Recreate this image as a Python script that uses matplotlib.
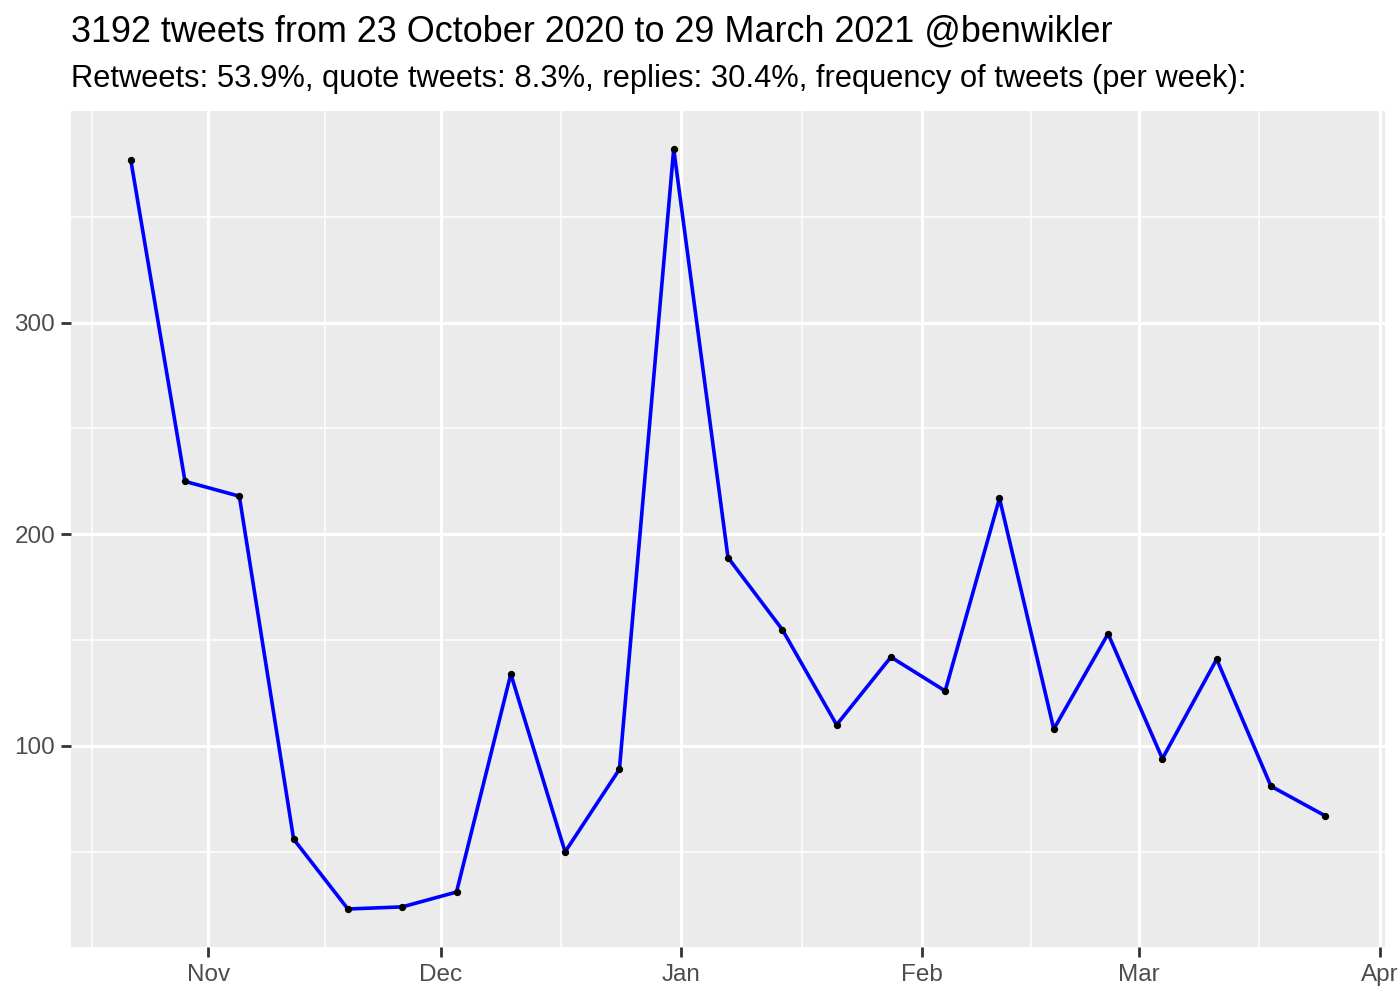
import matplotlib
matplotlib.use('Agg')
import matplotlib.pyplot as plt
import matplotlib.dates as mdates
import numpy as np
import pandas as pd

plt.rcParams['font.family'] = ['Liberation Sans', 'DejaVu Sans']

# weekly tweet counts
week_start = pd.date_range('2020-10-22', periods=23, freq='7D')
tweets = [377, 225, 218, 56, 23, 24, 31, 134, 50, 89, 382, 189, 155, 110,
          142, 126, 217, 108, 153, 94, 141, 81, 67]

title = '3192 tweets from 23 October 2020 to 29 March 2021 @benwikler'
subtitle = ('Retweets: 53.9%, quote tweets: 8.3%, replies: 30.4%, '
            'frequency of tweets (per week):')

major_ticks = pd.to_datetime(['2020-11-01', '2020-12-01', '2021-01-01',
                              '2021-02-01', '2021-03-01', '2021-04-01'])
major_labels = ['Nov', 'Dec', 'Jan', 'Feb', 'Mar', 'Apr']

fig = plt.figure(figsize=(14, 10), dpi=100)
ax = fig.add_axes([71 / 1400, 1 - 947 / 1000, (1385 - 71) / 1400, (947 - 111) / 1000])
ax.set_facecolor('#EBEBEB')
for s in ax.spines.values():
    s.set_visible(False)

x = mdates.date2num(week_start)
y = np.array(tweets)
xr = x.max() - x.min()
yr = y.max() - y.min()
ax.set_xlim(x.min() - 0.05 * xr, x.max() + 0.05 * xr)
ax.set_ylim(y.min() - 0.05 * yr, y.max() + 0.05 * yr)

# minor breaks halfway between month starts (plus one before Nov)
maj = mdates.date2num(major_ticks)
minor = list((maj[:-1] + maj[1:]) / 2)
minor.insert(0, maj[0] - (maj[1] - maj[0]) / 2)
ax.set_xticks(maj)
ax.set_xticklabels(major_labels)
ax.set_xticks(minor, minor=True)
ax.set_yticks([100, 200, 300])
ax.set_yticks([50, 150, 250, 350], minor=True)

ax.grid(which='major', color='white', linewidth=2.2)
ax.grid(which='minor', color='white', linewidth=1.1)
ax.set_axisbelow(True)

ax.tick_params(which='major', length=7.5, width=2, color='#333333',
               labelsize=17.5, labelcolor='#4D4D4D', pad=4)
ax.tick_params(axis='x', which='major', pad=5)
ax.tick_params(which='minor', length=0)

ax.plot(x, y, color='#0000FF', linewidth=2.6, zorder=3)
ax.scatter(x, y, s=18, color='black', zorder=4)

fig.text(71 / 1400, 1 - 32.5 / 1000, title, fontsize=25.9, va='center', ha='left')
fig.text(71 / 1400, 1 - 79.5 / 1000, subtitle, fontsize=22.2, va='center', ha='left')

fig.savefig('out.png', dpi=100)
